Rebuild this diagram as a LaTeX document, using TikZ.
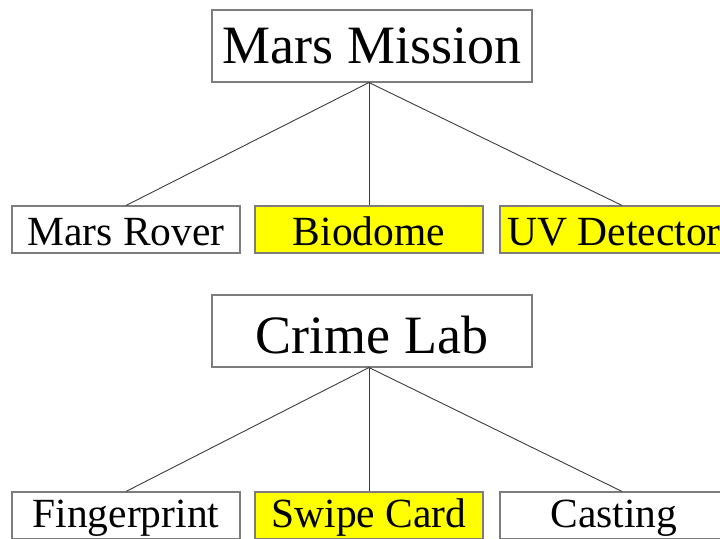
\documentclass[tikz,border=0pt]{standalone}
\usepackage{fontspec}
\setmainfont{Liberation Serif}
\definecolor{boxline}{RGB}{125,125,125}
\definecolor{connline}{RGB}{60,60,60}
\definecolor{hl}{RGB}{255,255,0}
\begin{document}
\begin{tikzpicture}[x=1pt,y=-1pt,
  basebox/.style={draw=boxline, line width=1.1pt, inner sep=0pt, text depth=0pt, fill=white},
  parentbox/.style={basebox, minimum width=320pt, minimum height=72pt, font=\fontsize{54}{60}\selectfont},
  childbox/.style={basebox, minimum width=228pt, minimum height=47pt, font=\fontsize{41.5}{48}\selectfont},
  yellowbox/.style={fill=hl},
  conn/.style={draw=connline, line width=0.9pt}]
\useasboundingbox (0,0) rectangle (720,538);
% top tree
\node[parentbox, text height=34pt] (mm) at (372,46) {Mars Mission};
\node[childbox, text height=31pt] (mr) at (126,229.5) {Mars Rover};
\node[childbox, yellowbox, text height=31pt] (bio) at (369,229.5) {Biodome};
\node[childbox, yellowbox, text height=31pt] (uv) at (614,229.5) {UV Detector};
\coordinate (j1) at (bio.north |- mm.south);
\coordinate (uvtop) at ([xshift=8pt]uv.north);
\draw[conn] (j1) -- (mr.north);
\draw[conn] (j1) -- (bio.north);
\draw[conn] (j1) -- (uvtop);
% bottom tree
\node[parentbox, text height=44pt] (cl) at (372,331) {Crime Lab};
\node[childbox, text height=23pt] (fp) at (126,515.5) {Fingerprint};
\node[childbox, yellowbox, text height=23pt] (sc) at (369,515.5) {Swipe Card};
\node[childbox, text height=23pt] (cs) at (614,515.5) {Casting};
\coordinate (j2) at (sc.north |- cl.south);
\coordinate (cstop) at ([xshift=8pt]cs.north);
\draw[conn] (j2) -- (fp.north);
\draw[conn] (j2) -- (sc.north);
\draw[conn] (j2) -- (cstop);
\end{tikzpicture}
\end{document}
